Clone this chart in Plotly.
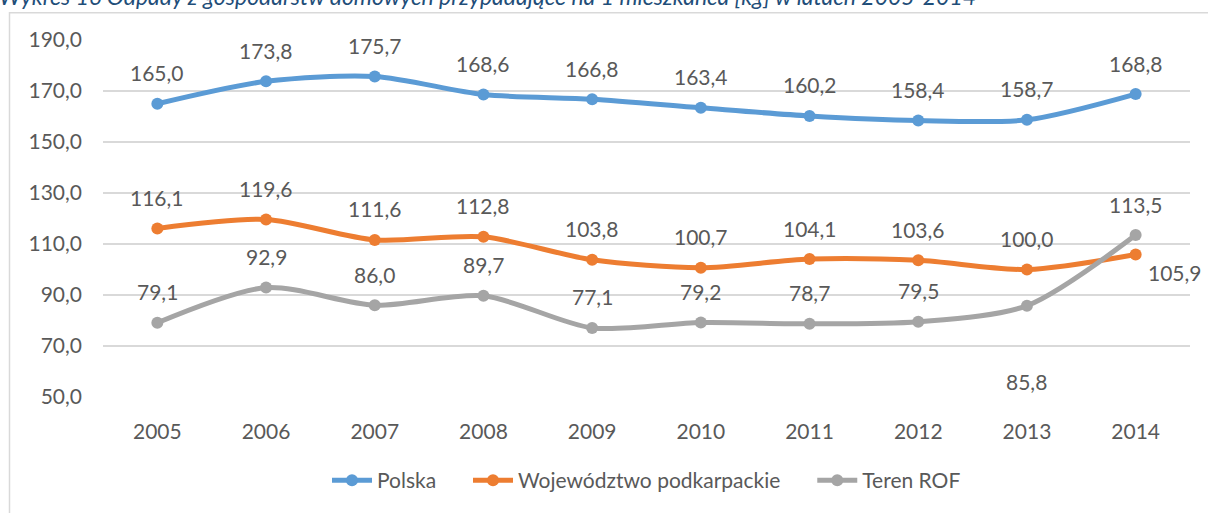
import plotly.graph_objects as go

years = ["2005", "2006", "2007", "2008", "2009", "2010", "2011", "2012", "2013", "2014"]
polska = [165.0, 173.8, 175.7, 168.6, 166.8, 163.4, 160.2, 158.4, 158.7, 168.8]
podkarpackie = [116.1, 119.6, 111.6, 112.8, 103.8, 100.7, 104.1, 103.6, 100.0, 105.9]
rof = [79.1, 92.9, 86.0, 89.7, 77.1, 79.2, 78.7, 79.5, 85.8, 113.5]
tick_vals = [50, 70, 90, 110, 130, 150, 170, 190]

FONT = "Lato, 'Open Sans', sans-serif"
TXT = "#595959"
FS = 21

def fmt(v):
    return f"{v:.1f}".replace(".", ",")

W, H = 1208, 513
L, R, T, B = 103, 18, 40, 114
pw, ph = W - L - R, H - T - B

def px2x(px):
    return (px - L) / pw

def py2y(py):
    return 1 - (py - T) / ph

xs = list(range(len(years)))

fig = go.Figure()

series = [
    ("Polska", polska, "#5B9BD5", ["top"] * 10),
    ("Województwo podkarpackie", podkarpackie, "#ED7D31", ["top"] * 9 + ["right"]),
    ("Teren ROF", rof, "#A5A5A5", ["top"] * 8 + ["below", "top"]),
]

legend_names = ["Polska     ", "Województwo podkarpackie     ", "Teren ROF"]

for (name, vals, col, pos), lname in zip(series, legend_names):
    fig.add_trace(go.Scatter(
        x=xs, y=vals, name=lname,
        mode="lines+markers",
        line=dict(color=col, width=5, shape="spline", smoothing=0.8),
        marker=dict(color=col, size=12),
    ))
    for xi, v, p in zip(xs, vals, pos):
        if p == "top":
            kw = dict(yshift=31, xanchor="center")
        elif p == "below":
            kw = dict(yshift=-76, xanchor="center")
        else:
            kw = dict(yshift=-18, xshift=68, xanchor="right")
        fig.add_annotation(x=xi, y=v, xref="x", yref="y", text=fmt(v), showarrow=False,
                           yanchor="middle",
                           font=dict(family=FONT, size=FS, color=TXT), **kw)

fig.update_layout(
    width=W, height=H,
    margin=dict(l=L, r=R, t=T, b=B),
    paper_bgcolor="white", plot_bgcolor="white",
    font=dict(family=FONT, size=FS, color=TXT),
    xaxis=dict(range=[-0.5, 9.5], tickvals=xs, ticktext=years,
               showgrid=False, zeroline=False,
               showline=False, ticks="", tickfont=dict(size=FS, color=TXT),
               ticklabelstandoff=20),
    yaxis=dict(range=[50, 190], tickvals=tick_vals,
               ticktext=[fmt(v) for v in tick_vals],
               showgrid=True, gridcolor="#D9D9D9", gridwidth=1.5,
               zeroline=False, showline=False, ticks="", ticklen=0,
               tickfont=dict(size=FS, color=TXT), ticklabelstandoff=20),
    legend=dict(orientation="h", x=0.5, xanchor="center", y=py2y(483), yanchor="middle",
                font=dict(size=FS, color=TXT), itemwidth=40),
    showlegend=True,
)

fig.add_shape(type="rect", xref="paper", yref="paper",
              x0=px2x(9.5), x1=px2x(1215), y0=py2y(12.5), y1=py2y(530),
              line=dict(color="#D9D9D9", width=1.5), fillcolor="rgba(0,0,0,0)", layer="below")

fig.add_annotation(
    text="Wykres 16 Odpady z gospodarstw domowych przypadające na 1 mieszkańca [kg] w latach 2005-2014",
    xref="paper", yref="paper", x=px2x(-3), y=py2y(12), xanchor="left", yanchor="bottom",
    showarrow=False, font=dict(family=FONT, size=23, color="#1F4E79", style="italic"),
)

fig.write_html("out.html", config={"displayModeBar": False},
               post_script="document.body.style.margin='0';")
